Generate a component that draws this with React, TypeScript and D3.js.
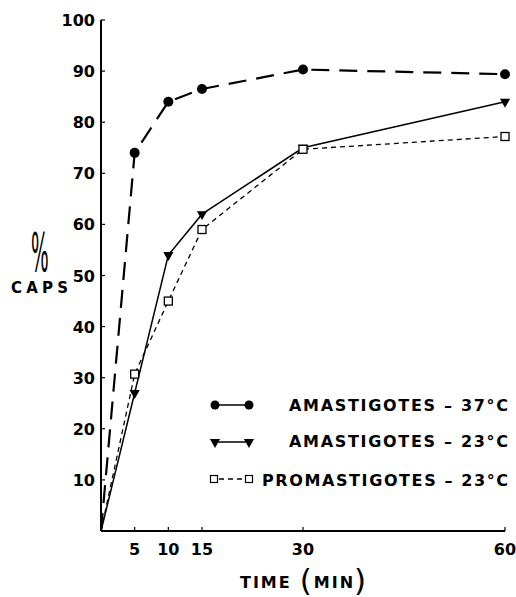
import React, { useEffect, useRef } from 'react';
import * as d3 from 'd3';

// minutes after start
const times = [0, 5, 10, 15, 30, 60];
// % caps
const amast37 = [0, 74, 84, 86.5, 90.3, 89.4];
const amast23 = [0, 27, 54, 62, 75, 84];
const promast23 = [0, 30.7, 45, 59, 74.7, 77.2];

const yTicks = [10, 20, 30, 40, 50, 60, 70, 80, 90, 100];
const xTicks = [5, 10, 15, 30, 60];
const legendLabels = ['AMASTIGOTES – 37°C', 'AMASTIGOTES – 23°C', 'PROMASTIGOTES – 23°C'];

const FONT = '"DejaVu Sans", Arial, sans-serif';

export default function App() {
  const ref = useRef<SVGSVGElement>(null);

  useEffect(() => {
    document.body.style.margin = '0';
    const svg = d3.select(ref.current);
    svg.selectAll('*').remove();

    const x = d3.scaleLinear().domain([0, 60]).range([101, 505]);
    const y = d3.scaleLinear().domain([0, 100]).range([531, 20]);

    // axes
    svg.append('line')
      .attr('x1', x(0)).attr('x2', x(0)).attr('y1', y(0)).attr('y2', y(100))
      .attr('stroke', '#000').attr('stroke-width', 2);
    svg.append('line')
      .attr('x1', x(0)).attr('x2', x(60)).attr('y1', y(0)).attr('y2', y(0))
      .attr('stroke', '#000').attr('stroke-width', 2);

    svg.append('g').selectAll('line').data(yTicks).join('line')
      .attr('x1', x(0)).attr('x2', x(0) + 4)
      .attr('y1', d => y(d)).attr('y2', d => y(d))
      .attr('stroke', '#000').attr('stroke-width', 1.2);
    svg.append('g').selectAll('text').data(yTicks).join('text')
      .attr('x', 95).attr('y', d => y(d) + 6)
      .attr('text-anchor', 'end')
      .attr('font-family', FONT).attr('font-weight', 'bold').attr('font-size', 16)
      .text(d => d);

    svg.append('g').selectAll('line').data(xTicks).join('line')
      .attr('x1', d => x(d)).attr('x2', d => x(d))
      .attr('y1', y(0)).attr('y2', y(0) - 4)
      .attr('stroke', '#000').attr('stroke-width', 1.2);
    svg.append('g').selectAll('text').data(xTicks).join('text')
      .attr('x', d => x(d)).attr('y', 555)
      .attr('text-anchor', 'middle')
      .attr('font-family', FONT).attr('font-weight', 'bold').attr('font-size', 16)
      .text(d => d);

    // axis titles
    const title = svg.append('text')
      .attr('x', 240).attr('y', 588)
      .attr('font-family', FONT).attr('font-weight', 'bold').attr('font-size', 16);
    title.append('tspan').attr('letter-spacing', 2).text('TIME');
    title.append('tspan').attr('font-size', 31).attr('font-weight', 'normal').attr('dx', 8).attr('dy', 3).text('(');
    title.append('tspan').attr('letter-spacing', 2).attr('dx', 2).attr('dy', -3).text('MIN');
    title.append('tspan').attr('font-size', 31).attr('font-weight', 'normal').attr('dx', -1).attr('dy', 3).text(')');

    svg.append('text')
      .attr('transform', 'translate(31,271) scale(0.62,1.75)')
      .attr('font-family', FONT).attr('font-size', 30)
      .text('%');
    svg.append('text')
      .attr('x', 11).attr('y', 293)
      .attr('textLength', 57).attr('lengthAdjust', 'spacing')
      .attr('font-family', FONT).attr('font-weight', 'bold').attr('font-size', 15)
      .text('CAPS');

    // lines
    const pts = (vals: number[]) => times.map((t, i) => [t, vals[i]] as [number, number]);
    const line = d3.line<[number, number]>().x(d => x(d[0])).y(d => y(d[1]));

    svg.append('path').attr('d', line(pts(amast37)))
      .attr('fill', 'none').attr('stroke', '#000').attr('stroke-width', 2.2)
      .attr('stroke-dasharray', '18,10');
    svg.append('path').attr('d', line(pts(amast23)))
      .attr('fill', 'none').attr('stroke', '#000').attr('stroke-width', 1.5);
    svg.append('path').attr('d', line(pts(promast23)))
      .attr('fill', 'none').attr('stroke', '#000').attr('stroke-width', 1.3)
      .attr('stroke-dasharray', '5,4');

    const tri = d3.symbol().type(d3.symbolTriangle).size(45);

    svg.append('g').selectAll('circle').data(pts(amast37).slice(1)).join('circle')
      .attr('cx', d => x(d[0])).attr('cy', d => y(d[1])).attr('r', 5).attr('fill', '#000');
    svg.append('g').selectAll('path').data(pts(amast23).slice(1)).join('path')
      .attr('d', tri)
      .attr('transform', d => `translate(${x(d[0])},${y(d[1])}) rotate(180)`)
      .attr('fill', '#000');
    svg.append('g').selectAll('rect').data(pts(promast23).slice(1)).join('rect')
      .attr('x', d => x(d[0]) - 4).attr('y', d => y(d[1]) - 4)
      .attr('width', 8).attr('height', 8)
      .attr('fill', '#fff').attr('stroke', '#000').attr('stroke-width', 1.3);

    // legend
    const legendY = [405, 442, 479];
    const textY = [411, 447, 486];
    const textW = [219, 219, 246];

    svg.append('line').attr('x1', 215).attr('x2', 249).attr('y1', legendY[0]).attr('y2', legendY[0])
      .attr('stroke', '#000').attr('stroke-width', 1.5);
    [215, 249].forEach(cx => {
      svg.append('circle').attr('cx', cx).attr('cy', legendY[0]).attr('r', 4.5).attr('fill', '#000');
      svg.append('path').attr('d', tri)
        .attr('transform', `translate(${cx},${legendY[1]}) rotate(180)`).attr('fill', '#000');
    });
    svg.append('line').attr('x1', 213).attr('x2', 249).attr('y1', legendY[1]).attr('y2', legendY[1])
      .attr('stroke', '#000').attr('stroke-width', 1.5);
    svg.append('line').attr('x1', 217).attr('x2', 246).attr('y1', legendY[2]).attr('y2', legendY[2])
      .attr('stroke', '#000').attr('stroke-width', 1.3).attr('stroke-dasharray', '5,4').attr('stroke-dashoffset', -2);
    [214, 249].forEach(cx => {
      svg.append('rect').attr('x', cx - 3.5).attr('y', legendY[2] - 3.5).attr('width', 7).attr('height', 7)
        .attr('fill', '#fff').attr('stroke', '#000').attr('stroke-width', 1.2);
    });

    svg.append('g').selectAll('text').data(legendLabels).join('text')
      .attr('x', (d, i) => 508 - textW[i]).attr('y', (d, i) => textY[i])
      .attr('textLength', (d, i) => textW[i]).attr('lengthAdjust', 'spacing')
      .attr('font-family', FONT).attr('font-weight', 'bold').attr('font-size', 16)
      .text(d => d);
  }, []);

  return (
    <div>
      <svg ref={ref} width={516} height={597} style={{ display: 'block', background: '#fff' }} />
    </div>
  );
}
